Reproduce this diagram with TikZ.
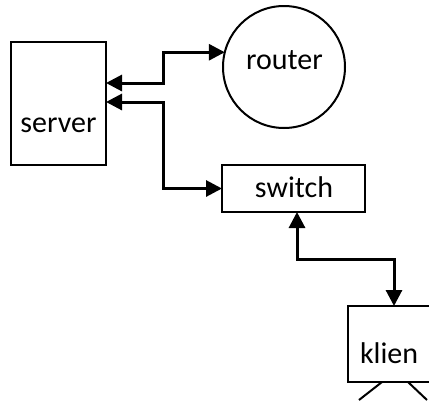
\documentclass[tikz,border=0pt]{standalone}
\usepackage{fontspec}
\setmainfont{Carlito}
\usetikzlibrary{arrows.meta}
\begin{document}
\begin{tikzpicture}[x=1pt,y=-1pt,
  box/.style={draw,line width=2pt,inner sep=0pt,outer sep=0pt},
  lbl/.style={inner sep=0pt,outer sep=0pt,font=\fontsize{30}{36}\selectfont},
  link/.style={line width=3pt,{Triangle[length=16pt,width=16pt]}-{Triangle[length=16pt,width=16pt]}},
  stand/.style={line width=2pt}]
\useasboundingbox (0,0) rectangle (429,400);
\clip (0,0) rectangle (429,400);
% devices
\node[box,rectangle,minimum width=95pt,minimum height=123pt] (server) at (58.5,103.5) {};
\node[box,circle,minimum size=122pt] (router) at (284,67) {};
\node[box,rectangle,minimum width=143pt,minimum height=47pt] (switch) at (293.5,188.5) {};
\node[box,rectangle,minimum width=92pt,minimum height=76pt] (klien) at (394,344) {};
% labels
\node[lbl,anchor=base] (servertext) at (58.5,132) {server};
\node[lbl,anchor=base] (routertext) at (284.5,69) {router};
\node[lbl,anchor=base] (switchtext) at (294,197) {switch};
\node[lbl,anchor=base west] (klientext) at (360,363) {klien};
% stand under the client
\draw[stand] ([xshift=-12pt]klien.south) -- ++(-23,18);
\draw[stand] ([xshift=14pt]klien.south) -- ++(19,18);
% connections
\coordinate (j1) at (163,83);
\coordinate (j2) at (163,102);
\coordinate (j3) at (297,259);
\draw[link] (j1 -| server.east) -- (j1) |- (router.166.7);
\draw[link] (j2 -| server.east) -- (j2) |- (switch.west);
\draw[link] (switch.south -| j3) -- (j3) -| (klien.north);
\end{tikzpicture}
\end{document}
